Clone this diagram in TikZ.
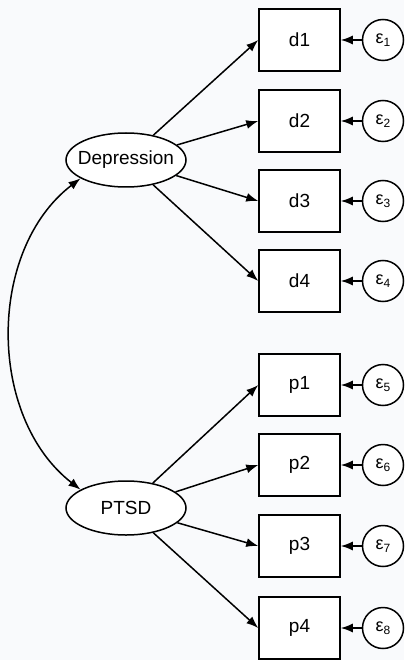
\documentclass[tikz,border=0pt]{standalone}
\usepackage{fontspec}
\setmainfont{Liberation Sans}
\usetikzlibrary{arrows.meta,shapes.geometric}
\definecolor{bgc}{RGB}{249,250,252}
\begin{document}
\begin{tikzpicture}[x=1pt,y=-1pt,
  every node/.style={font=\fontsize{19}{21}\selectfont, line width=1.5pt},
  obs/.style={draw, rectangle, minimum width=81pt, minimum height=62pt, inner sep=0pt, fill=white},
  lat/.style={draw, ellipse, minimum width=120pt, minimum height=54pt, inner sep=0pt, fill=white},
  err/.style={draw, circle, minimum size=41pt, inner sep=0pt, fill=white, font=\fontsize{18}{20}\selectfont},
  path/.style={line width=1.5pt, -{Latex[length=12pt,width=9pt]}},
  cov/.style={line width=1.5pt, {Latex[length=12pt,width=9pt]}-{Latex[length=12pt,width=9pt]}}
]
\fill[bgc] (0,0) rectangle (404,660);
\useasboundingbox (0,0) rectangle (404,660);
\node[lat] (dep) at (126,160) {\makebox[0pt]{Depression}};
\node[lat] (ptsd) at (126,508) {\makebox[0pt]{PTSD}};
\foreach \n/\y/\e in {d1/40/1,d2/121/2,d3/201/3,d4/281/4,p1/385/5,p2/465/6,p3/546/7,p4/628/8}{
  \node[obs] (\n) at (299.5,\y) {\n};
  \node[err] (e\e) at (383,\y) {ε\raisebox{-0.35ex}{\fontsize{12}{13}\selectfont \e}};
  \draw[path] (e\e) -- (\n);
}
\foreach \n in {d1,d2,d3,d4}{\draw[path] (dep) -- (\n.west);}
\foreach \n in {p1,p2,p3,p4}{\draw[path] (ptsd) -- (\n.west);}
\draw[cov] (dep.202) .. controls (-13,250) and (-13,417) .. (ptsd.158);
\end{tikzpicture}
\end{document}
